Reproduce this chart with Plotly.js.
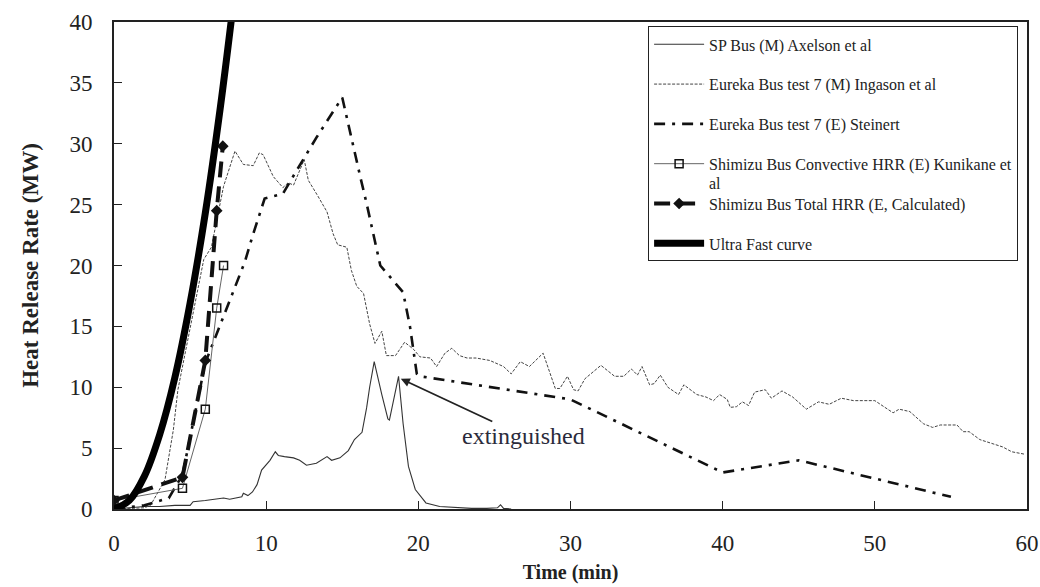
<!DOCTYPE html>
<html>
<head>
<meta charset="utf-8">
<script src="https://cdn.plot.ly/plotly-3.0.1.min.js"></script>
<style>html,body{margin:0;padding:0;background:#fff;}#chart{width:1040px;height:587px;}</style>
</head>
<body>
<div id="chart"></div>
<script>
// ---- data ----
const seriesNames = [
  "SP Bus (M) Axelson et al",
  "Eureka Bus test 7 (M) Ingason et al",
  "Eureka Bus test 7 (E) Steinert",
  "Shimizu Bus Convective HRR (E) Kunikane et",
  "Shimizu Bus Total HRR (E, Calculated)",
  "Ultra Fast curve"
];
const legendWrapText = "al";

const spBusT = [0,1,2,3,4,5,5.2,6,7.2,7.6,8.4,8.5,8.8,9.1,9.4,9.7,9.9,10.25,10.6,10.8,11.2,11.8,12.2,12.65,13.3,14.0,14.3,14.85,15.4,15.8,16.3,16.6,16.8,17.1,17.6,18.0,18.1,18.7,19.0,19.35,19.8,20.5,21.4,22.5,23.5,24.5,25.2,25.4,25.6,26.1];
const spBusY = [0,0.1,0.2,0.2,0.3,0.3,0.6,0.7,0.9,0.8,1.0,1.3,1.1,1.4,2.0,3.2,3.5,4.0,4.7,4.4,4.3,4.2,4.0,3.6,3.75,4.3,4.0,4.2,4.8,5.7,6.3,8.3,10.0,12.1,9.4,7.4,7.3,10.9,7.0,3.5,1.6,0.5,0.2,0.1,0.05,0.05,0.1,0.35,0.05,0];

const eurekaMT = [0,2,2.4,3.35,3.9,4.2,5.9,6.4,7.2,7.95,8.5,9.15,9.55,9.8,10.47,11.1,11.45,11.8,12.5,12.77,13.4,14.0,14.4,14.7,15.3,15.6,15.95,16.4,16.8,17.15,17.6,17.9,18.5,19.1,19.7,20.1,20.8,21.2,21.75,22.2,22.7,23.2,23.8,24.7,25.6,26.1,26.7,27.3,28.2,29.0,29.3,29.8,30.2,30.5,30.95,32.0,32.9,33.5,34.0,34.4,34.7,35.2,35.5,35.9,36.4,37.1,37.45,38.3,38.9,39.4,39.8,40.3,40.5,40.9,41.3,41.7,42.1,42.8,43.2,43.9,44.6,45.5,46.3,47.0,47.8,48.6,50.0,50.5,51.2,51.6,52.3,53.2,53.8,54.3,55.4,55.8,56.2,56.9,58.4,59.0,59.85];
const eurekaMY = [0,0.1,0.3,2.4,6.5,9.8,20.5,21.5,26.5,29.4,28.3,28.2,29.25,29.1,27.3,26.4,26.8,26.6,28.7,27.0,25.7,24.4,22.6,21.7,21.5,19.6,18.3,17.7,15.2,13.6,14.6,12.6,12.6,13.7,13.1,12.5,12.4,11.7,12.8,13.2,12.6,12.4,12.4,12.2,11.7,11.1,12.1,11.7,12.8,9.9,9.9,10.9,9.8,9.7,10.7,11.8,10.9,10.9,11.5,11.0,11.7,10.2,10.3,11.0,10.0,9.4,10.2,9.4,9.2,8.9,9.4,9.0,8.35,8.4,8.8,8.5,9.6,9.8,9.1,9.7,9.2,8.2,8.8,8.6,9.1,8.9,8.9,8.5,7.9,8.2,8.0,7.0,6.7,6.9,6.9,6.35,6.35,5.7,5.1,4.7,4.5];

const eurekaET = [0,2,3.6,4.5,6.0,7.3,7.95,8.6,9.1,9.64,9.9,10.5,11.1,12.0,12.9,13.35,15.0,15.6,16.2,16.6,17.0,17.5,18.25,19.0,19.45,19.9,20.1,30,40,45,55];
const eurekaEY = [0,0.3,0.9,2.8,12.0,16.2,18.2,20.3,22.4,24.5,25.5,25.7,25.9,27.8,29.7,30.6,33.8,30.4,27.2,25.1,22.9,20.0,18.9,17.8,15.0,11.1,10.9,9.0,3.0,4.0,1.0];

const shimizuConvT = [0,4.5,6,6.75,7.2];
const shimizuConvY = [0.7,1.7,8.2,16.5,20];

const shimizuTotT = [0,4.5,6,6.75,7.15];
const shimizuTotY = [0.7,2.6,12.2,24.5,29.8];

const ultraT = [0,1,2,3,4,5,6,7,7.8];
const ultraY = [0,0.7,2.7,6.1,10.8,16.9,24.3,33.1,41.1];

const xTicks = [0,10,20,30,40,50,60];
const yTicks = [0,5,10,15,20,25,30,35,40];

// ---- chart ----
const serif = "Liberation Serif, Times New Roman, serif";
const traces = [
  {x: spBusT, y: spBusY, name: seriesNames[0], mode: "lines", legendgroup: "a",
   line: {color: "#333", width: 1.1}},
  {x: eurekaMT, y: eurekaMY, name: seriesNames[1], mode: "lines", legendgroup: "b",
   line: {color: "#444", width: 1, dash: "3px,1.5px"}},
  {x: eurekaET, y: eurekaEY, name: seriesNames[2], mode: "lines", legendgroup: "c",
   line: {color: "#111", width: 2.6, dash: "11px,7px,3px,7px"}},
  {x: shimizuConvT, y: shimizuConvY, name: seriesNames[3], mode: "lines+markers", legendgroup: "d",
   line: {color: "#666", width: 1},
   marker: {symbol: "square-open", size: 8, color: "#111", line: {width: 1.5, color: "#111"}}},
  {x: shimizuTotT, y: shimizuTotY, name: seriesNames[4], mode: "lines+markers", legendgroup: "e",
   line: {color: "#111", width: 4, dash: "16px,9px"},
   marker: {symbol: "diamond", size: 9, color: "#111"}},
  {x: ultraT, y: ultraY, name: seriesNames[5], mode: "lines", legendgroup: "f",
   line: {color: "#000", width: 7, shape: "spline"}}
];

const layout = {
  width: 1040, height: 587,
  margin: {l: 114, r: 13, t: 22, b: 78},
  paper_bgcolor: "#fff", plot_bgcolor: "#fff",
  font: {family: serif, color: "#222"},
  showlegend: true,
  legend: {
    x: 0.585, y: 0.991, xanchor: "left", yanchor: "top",
    bgcolor: "rgba(255,255,255,0)", bordercolor: "#222", borderwidth: 1,
    font: {family: serif, size: 16, color: "#222"},
    traceorder: "grouped", tracegroupgap: 16, itemwidth: 50
  },
  xaxis: {
    range: [0, 60], tickvals: xTicks, ticktext: xTicks.map(String),
    ticks: "inside", ticklen: 8, tickcolor: "#222", tickwidth: 1,
    showline: true, linecolor: "#222", linewidth: 2, mirror: true,
    showgrid: false, zeroline: false,
    tickfont: {family: serif, size: 23, color: "#222"},
    ticklabelstandoff: 12,
    title: {text: "<b>Time (min)</b>", font: {family: serif, size: 20, color: "#222"}, standoff: 10}
  },
  yaxis: {
    range: [0, 40], tickvals: yTicks, ticktext: yTicks.map(String),
    ticks: "inside", ticklen: 8, tickcolor: "#222", tickwidth: 1,
    showline: true, linecolor: "#222", linewidth: 2, mirror: true,
    showgrid: false, zeroline: false,
    tickfont: {family: serif, size: 23, color: "#222"},
    ticklabelstandoff: 15,
    title: {text: "<b>Heat Release Rate (MW)</b>", font: {family: serif, size: 23, color: "#222"}, standoff: 24}
  },
  annotations: [{
    x: 18.85, y: 10.7, xref: "x", yref: "y",
    ax: 26.9, ay: 6.0, axref: "x", ayref: "y",
    text: "extinguished", showarrow: true,
    arrowhead: 2, arrowsize: 1, arrowwidth: 1.8, arrowcolor: "#222",
    font: {family: serif, size: 24, color: "#2b2b3b"}
  }, {
    x: 0.650, y: 0.669, xref: "paper", yref: "paper", xanchor: "left", yanchor: "middle",
    text: legendWrapText, showarrow: false,
    font: {family: serif, size: 16, color: "#222"}
  }]
};

Plotly.newPlot("chart", traces, layout, {staticPlot: true, displayModeBar: false});
</script>
</body>
</html>
